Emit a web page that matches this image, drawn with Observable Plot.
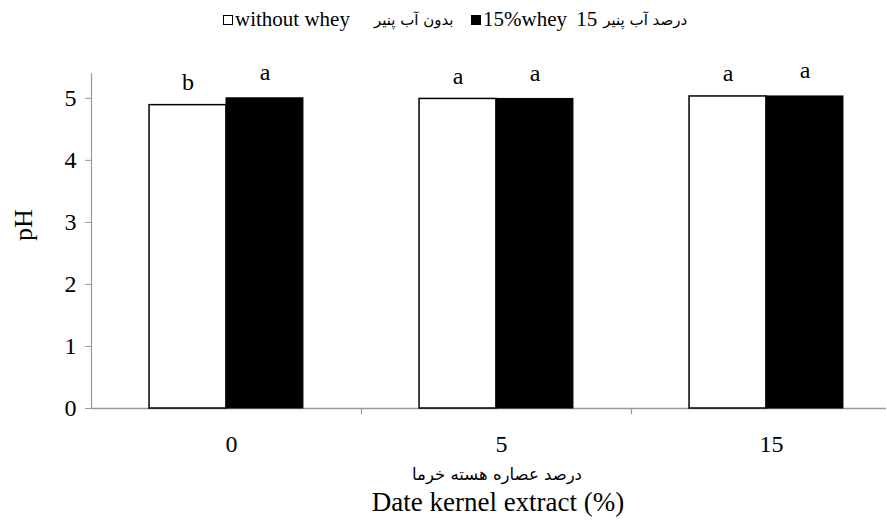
<!DOCTYPE html>
<html>
<head>
<meta charset="utf-8">
<script src="https://cdn.jsdelivr.net/npm/d3@7"></script>
<script src="https://cdn.jsdelivr.net/npm/@observablehq/plot@0.6"></script>
<style>
  html, body { margin: 0; padding: 0; background: #fff; overflow: hidden; }
  body { width: 887px; height: 522px; position: relative; font-family: "Liberation Serif", "DejaVu Sans", serif; }
  #legend { position: absolute; left: 0; top: 7px; width: 887px; height: 30px; font-size: 21px; color: #000; }
  #legend .item { position: absolute; top: 0; display: flex; align-items: center; white-space: nowrap; }
  #legend .sw { width: 8px; height: 8px; border: 1.5px solid #000; margin-right: 2px; }
  #legend .fa { font-family: "DejaVu Sans", sans-serif; font-size: 15px; }
  #chart { position: absolute; left: 0; top: 40px; }
</style>
</head>
<body>
<div id="legend"></div>
<div id="chart"></div>
<script>
// ---- data ----
const doses = ["0", "5", "15"];
const seriesNames = ["without whey", "15% whey"];
const seriesFa = ["بدون آب پنیر", "درصد آب پنیر"];
const withoutWhey = [4.89, 4.99, 5.03];
const withWhey = [5.0, 4.99, 5.03];
const lettersWithout = ["b", "a", "a"];
const lettersWith = ["a", "a", "a"];
const yTicks = [0, 1, 2, 3, 4, 5];
const xTitleFa = "درصد عصاره هسته خرما";
const xTitleEn = "Date kernel extract (%)";
const yTitle = "pH";

const rows = [];
doses.forEach((d, i) => {
  rows.push({dose: d, series: seriesNames[0], value: withoutWhey[i], letter: lettersWithout[i]});
  rows.push({dose: d, series: seriesNames[1], value: withWhey[i], letter: lettersWith[i]});
});
const rowsA = rows.filter(r => r.series === seriesNames[0]);
const rowsB = rows.filter(r => r.series === seriesNames[1]);

// ---- legend ----
const legend = document.getElementById("legend");
legend.innerHTML = `
  <div class="item" style="left:223px"><span class="sw" style="background:#fff"></span><span>without whey</span><span class="fa" dir="rtl" style="margin-left:24px">${seriesFa[0]}</span></div>
  <div class="item" style="left:471px"><span class="sw" style="background:#000"></span><span style="word-spacing:4px">15%whey 15</span><span class="fa" dir="rtl" style="margin-left:6px">${seriesFa[1]}</span></div>
`;

// ---- chart ----
const W = 887, H = 482;
const mL = 91, mR = 1, mT = 33, mB = 114;
const band = (901 - mL) / doses.length;   // band spans past the right edge like the original
const gap = band * 0.215, barW = band * 0.285;

const font = "'Liberation Serif', serif";
const chart = Plot.plot({
  width: W, height: H,
  marginLeft: mL, marginRight: mR, marginTop: mT, marginBottom: mB,
  style: {fontFamily: font, fontSize: "24px", color: "#000", background: "#fff", overflow: "visible"},
  x: {domain: doses, range: [mL, 901], padding: 0, axis: null},
  y: {domain: [0, 5.4], axis: null},
  marks: [
    Plot.frame({anchor: "left", stroke: "#999", strokeWidth: 1.2}),
    Plot.ruleY([0], {stroke: "#999", strokeWidth: 1.5}),
    // category separator ticks
    Plot.ruleX(doses, {x: d => d, y1: 0, y2: -0.1, dx: band / 2, stroke: "#999", strokeWidth: 1.2}),
    Plot.axisY(yTicks, {tickSize: 6, tickPadding: 9, stroke: "#999", fontSize: 24, fill: "#000", label: null, tickFormat: d => String(d)}),
    Plot.axisX({tickSize: 0, tickPadding: 26, dx: 5, fontSize: 24, fill: "#000", label: null}),
    Plot.barY(rowsA, {x: "dose", y: "value", fill: "#fff", stroke: "#000", strokeWidth: 1.5, insetLeft: gap, insetRight: band - gap - barW}),
    Plot.barY(rowsB, {x: "dose", y: "value", fill: "#000", stroke: "#000", strokeWidth: 1, insetLeft: gap + barW, insetRight: band - gap - 2 * barW}),
    Plot.text(rowsA, {x: "dose", y: "value", text: "letter", dx: gap + barW / 2 - band / 2, dy: -15, lineAnchor: "bottom", fontSize: 24, fill: "#000"}),
    Plot.text(rowsB, {x: "dose", y: "value", text: "letter", dx: gap + 1.5 * barW - band / 2, dy: -18, lineAnchor: "bottom", fontSize: 24, fill: "#000"}),
    Plot.text([xTitleFa], {frameAnchor: "bottom", text: d => d, dy: 71, dx: 8, fontSize: 16.5, fontFamily: "DejaVu Sans, sans-serif", fill: "#000"}),
    Plot.text([xTitleEn], {frameAnchor: "bottom", text: d => d, dy: 102, dx: 9, fontSize: 27, fill: "#000"}),
    Plot.text([yTitle], {frameAnchor: "left", text: d => d, dx: -68, rotate: -90, fontSize: 26, fill: "#000"})
  ]
});
document.getElementById("chart").appendChild(chart);
</script>
</body>
</html>
